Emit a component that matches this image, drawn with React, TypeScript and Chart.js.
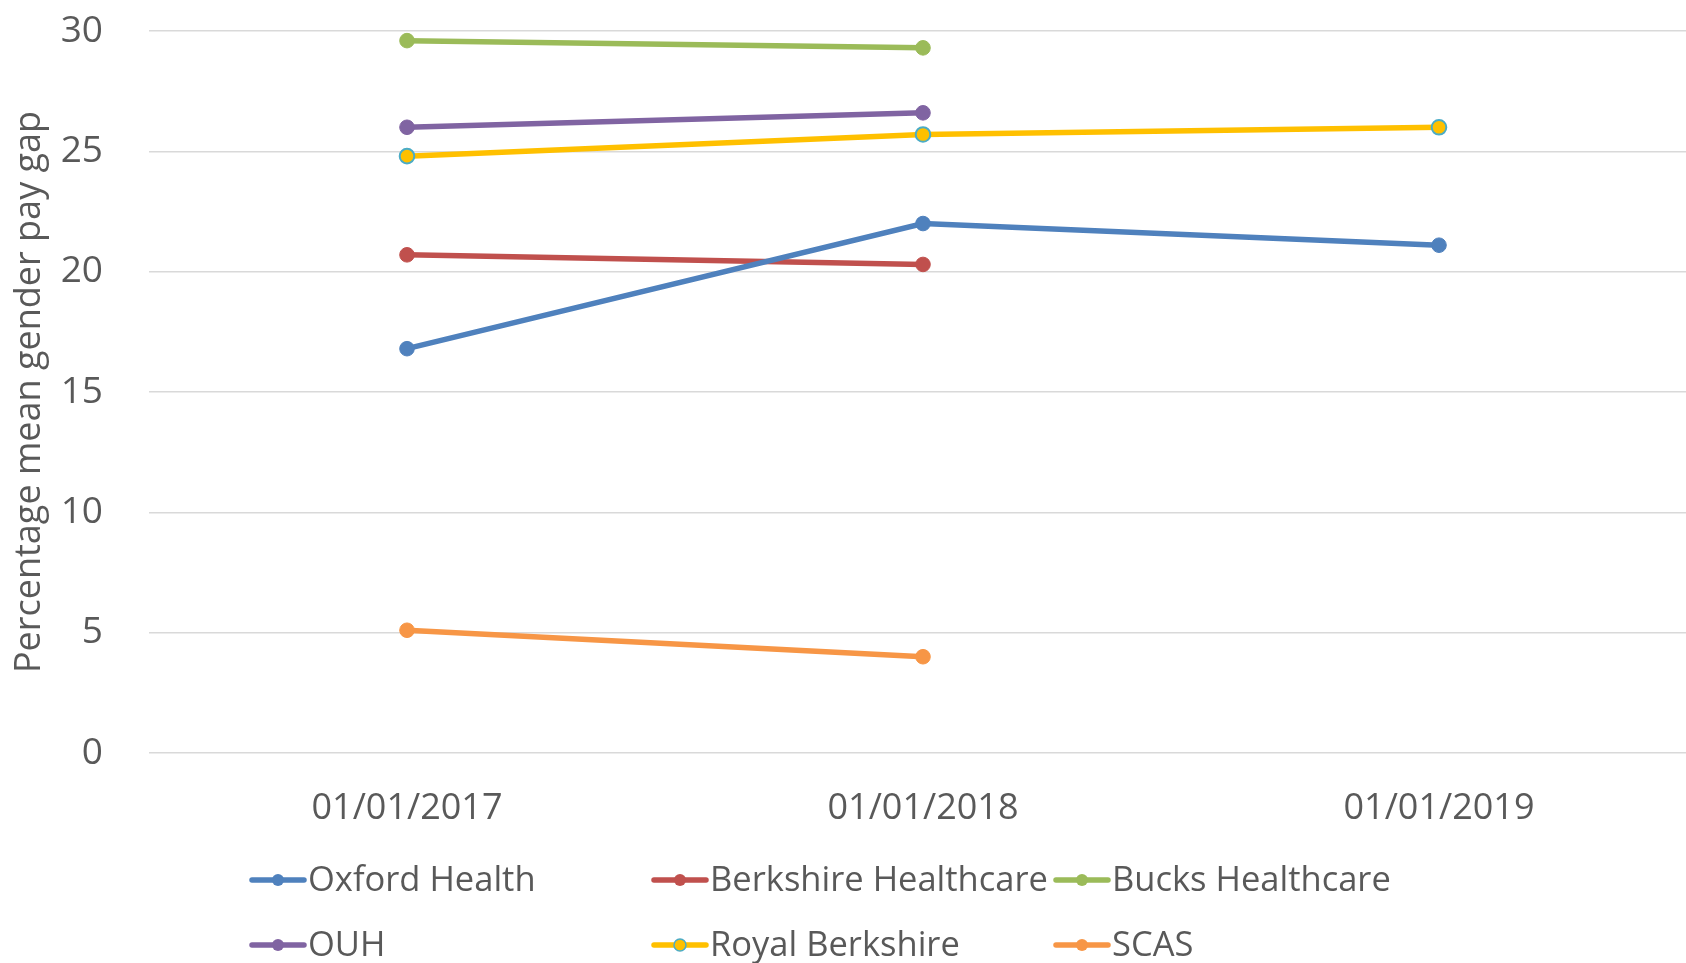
import React, { useEffect, useRef } from "react";
import { Chart, registerables } from "chart.js";

Chart.register(...registerables);

const categories = ["01/01/2017", "01/01/2018", "01/01/2019"];
const oxfordHealth = [16.8, 22.0, 21.1];
const berkshireHealthcare = [20.7, 20.3, null];
const bucksHealthcare = [29.6, 29.3, null];
const ouh = [26.0, 26.6, null];
const royalBerkshire = [24.8, 25.7, 26.0];
const scas = [5.1, 4.0, null];
const yTicks = [0, 5, 10, 15, 20, 25, 30];

const FONT = '"Open Sans", "Noto Sans", sans-serif';
const TEXT = "#595959";

const legendPlugin = {
  id: "gridLegend",
  afterDraw(chart: any) {
    const ctx = chart.ctx;
    const bottom = chart.chartArea.bottom;
    ctx.save();
    ctx.font = `34.5px ${FONT}`;
    ctx.textBaseline = "middle";
    ctx.textAlign = "left";
    chart.data.datasets.forEach((d: any, i: number) => {
      const col = i % 3;
      const row = Math.floor(i / 3);
      const x = 250 + col * 402;
      const y = bottom + 127 + row * 65;
      ctx.strokeStyle = d.borderColor;
      ctx.lineWidth = 5.5;
      ctx.lineCap = "round";
      ctx.beginPath();
      ctx.moveTo(x + 2, y);
      ctx.lineTo(x + 54, y);
      ctx.stroke();
      ctx.beginPath();
      ctx.arc(x + 28, y, 6, 0, Math.PI * 2);
      ctx.fillStyle = d.pointBackgroundColor;
      ctx.fill();
      if (d.pointBorderColor !== d.pointBackgroundColor) {
        ctx.lineWidth = 1.5;
        ctx.strokeStyle = d.pointBorderColor;
        ctx.stroke();
      }
      ctx.fillStyle = TEXT;
      ctx.fillText(d.label, x + 58, y + 1);
    });
    ctx.restore();
  },
};

function ds(label: string, data: (number | null)[], color: string, border?: string) {
  return {
    label,
    data,
    borderColor: color,
    backgroundColor: color,
    pointBackgroundColor: color,
    pointBorderColor: border || color,
    pointBorderWidth: border ? 2 : 1,
    pointRadius: 7.3,
    borderWidth: 5.5,
    tension: 0,
    fill: false,
  };
}

export default function App() {
  const ref = useRef<HTMLCanvasElement>(null);
  useEffect(() => {
    if (!ref.current) return;
    const chart = new Chart(ref.current, {
      type: "line",
      data: {
        labels: categories,
        datasets: [
          ds("Oxford Health", oxfordHealth, "#4F81BD"),
          ds("Berkshire Healthcare", berkshireHealthcare, "#C0504D"),
          ds("Bucks Healthcare", bucksHealthcare, "#9BBB59"),
          ds("OUH", ouh, "#8064A2"),
          ds("Royal Berkshire", royalBerkshire, "#FFC000", "#4BACC6"),
          ds("SCAS", scas, "#F79646"),
        ],
      },
      options: {
        animation: false,
        responsive: false,
        layout: { autoPadding: false, padding: { top: 31, left: 0, right: 0, bottom: 0 } },
        plugins: {
          legend: { display: false },
          tooltip: { enabled: false },
        },
        scales: {
          x: {
            type: "category",
            offset: true,
            grid: { display: false, drawTicks: false },
            border: { display: false },
            ticks: { color: TEXT, font: { family: FONT, size: 36 }, padding: 34, maxRotation: 0 },
            afterFit(scale: any) {
              scale.height = 210;
              scale.paddingLeft = 0;
              scale.paddingRight = 0;
            },
          },
          y: {
            min: 0,
            max: 30,
            afterBuildTicks(scale: any) {
              scale.ticks = yTicks.map((v) => ({ value: v }));
            },
            grid: { color: "#D9D9D9", lineWidth: 1.5, drawTicks: false },
            border: { display: false },
            ticks: { color: TEXT, font: { family: FONT, size: 37 }, padding: 46 },
            title: {
              display: true,
              text: "Percentage mean gender pay gap",
              color: TEXT,
              font: { family: FONT, size: 36 },
              padding: { top: 8, bottom: 0 },
            },
            afterFit(scale: any) {
              scale.width = 149;
              scale.paddingTop = 0;
              scale.paddingBottom = 0;
            },
          },
        },
      },
      plugins: [legendPlugin],
    } as any);
    return () => chart.destroy();
  }, []);
  return (
    <div
      style={{
        position: "fixed",
        left: 0,
        top: 0,
        width: 1686,
        height: 963,
        overflow: "hidden",
        background: "#fff",
      }}
    >
      <canvas
        ref={ref}
        width={1697}
        height={963}
        style={{ display: "block", width: 1697, height: 963, maxWidth: "none" }}
      />
    </div>
  );
}
